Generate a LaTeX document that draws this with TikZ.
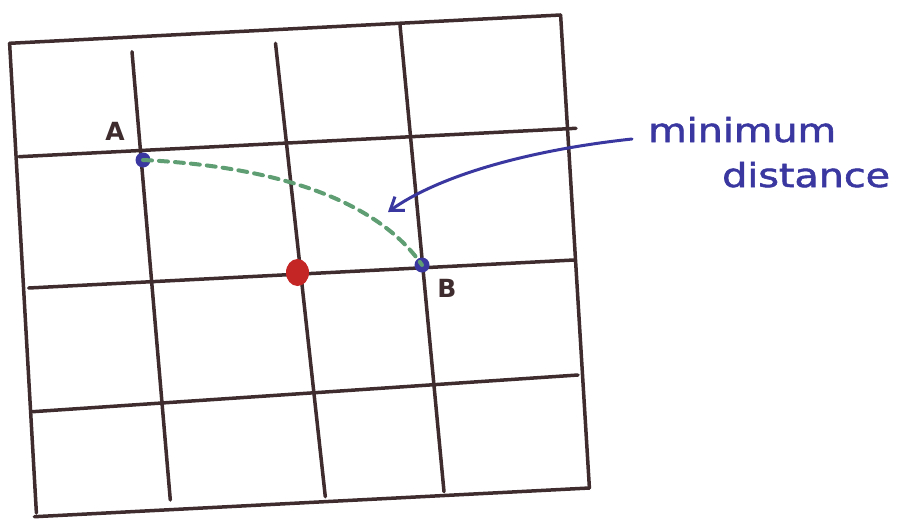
\documentclass[tikz,border=0pt]{standalone}
\usepackage{fontspec}
\usepackage{graphicx}
\setmainfont{DejaVu Sans}
\newfontfamily\handfont[FakeBold=1.6]{DejaVu Sans}
\definecolor{ink}{HTML}{3E2C2E}
\definecolor{pen}{HTML}{3A38A0}
\definecolor{grn}{HTML}{5E9E72}
\definecolor{redd}{HTML}{C42626}
\tikzset{
  gridline/.style={draw=ink, line width=3.5pt, line cap=round},
  bluedot/.style={circle, fill=pen, draw=none, minimum size=15pt, inner sep=0pt},
  reddot/.style={ellipse, fill=redd, draw=none, minimum width=23pt, minimum height=27pt, inner sep=0pt},
  ptlabel/.style={text=ink, font=\fontsize{25}{27}\selectfont\bfseries, inner sep=0pt},
  handtext/.style={text=pen, font=\handfont\fontsize{33}{36}\selectfont, inner sep=0pt, anchor=base west}
}
\usetikzlibrary{shapes.geometric,arrows.meta}
\begin{document}
\begin{tikzpicture}[x=1pt,y=-1pt]
\useasboundingbox (0,0) rectangle (901,525);
% outer frame
\draw[gridline] (9.6,43.3) -- (560.6,15);
\draw[gridline] (560.6,15) -- (589.4,488);
\draw[gridline] (34.4,516.7) -- (589.4,488);
\draw[gridline] (9.6,43.3) -- (36.4,513);
% horizontal lines
\draw[gridline] (19,156.7) -- (576,128.3);
\draw[gridline] (28.7,288) -- (574,260);
\draw[gridline] (32.5,411.7) -- (578,375);
% vertical lines
\draw[gridline] (132,51.7) -- (170.3,500);
\draw[gridline] (275.5,43.3) -- (325.3,496.7);
\draw[gridline] (400,25) -- (444,491.7);
% points
\node[bluedot] (A) at (143,160) {};
\node[bluedot] (B) at (422,265) {};
\node[reddot] (R) at (297.5,272.5) {};
\node[ptlabel] (la) at (115,131) {A};
\node[ptlabel] (lb) at (447,288) {B};
% minimum distance curve
\draw[grn, line width=4pt, dash pattern=on 9pt off 7pt, line cap=round]
  (A.center) .. controls (250,165) and (370,190) .. (B.center);
% label
\node[handtext] (t1) at (648,142) {\scalebox{1.2}[1]{minimum}};
\node[handtext] (t2) at (722,187) {\scalebox{1.2}[1]{distance}};
\coordinate (tip) at (388,212);
\draw[pen, line width=3pt, line cap=round, -{Straight Barb[length=12pt,width=17pt,line width=3pt]}]
  (632,139) .. controls (530,150) and (440,175) .. (tip);
\end{tikzpicture}
\end{document}
